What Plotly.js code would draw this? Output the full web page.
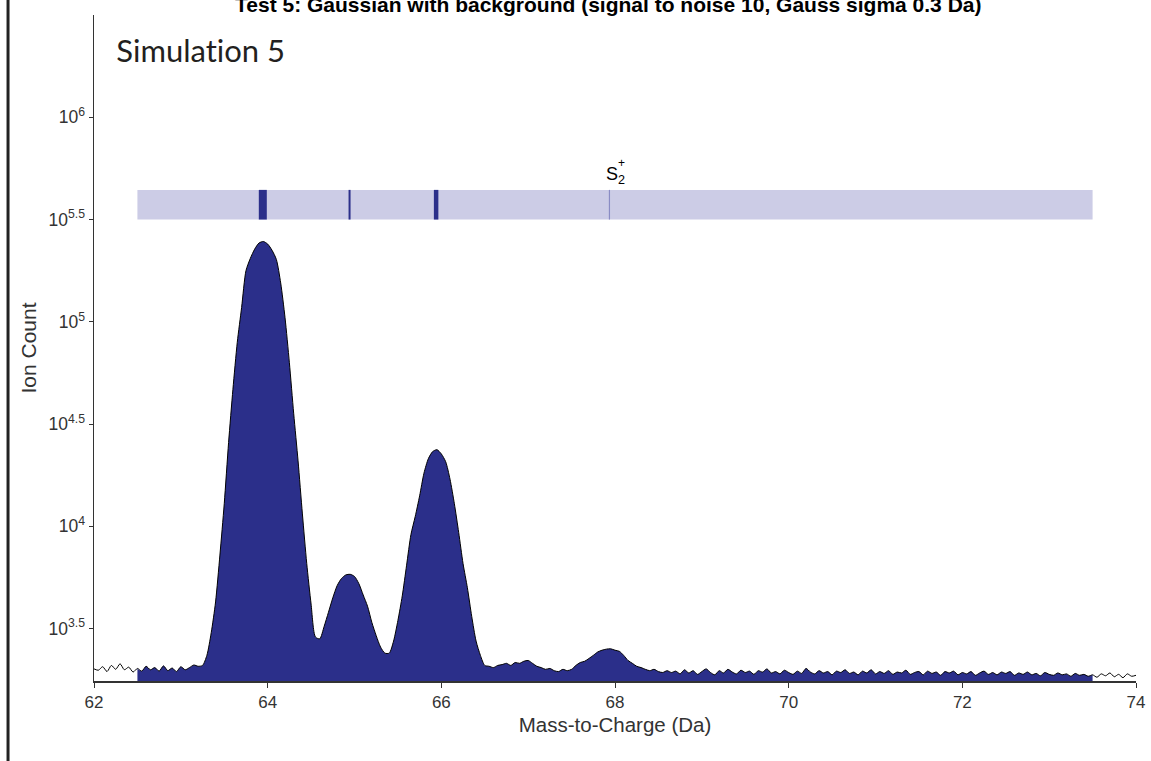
<!DOCTYPE html>
<html>
<head>
<meta charset="utf-8">
<script src="https://cdn.plot.ly/plotly-3.0.1.min.js"></script>
<style>
html,body{margin:0;padding:0;background:#fff;}
#chart{width:1151px;height:761px;}
#chart text{font-variant-ligatures:none;font-feature-settings:"liga" 0;}
</style>
</head>
<body>
<div id="chart"></div>
<script>
// ---- data ----
var mzStart = 62.0;          // first bin (Da)
var binWidth = 0.05;         // bin width (Da)
// ion counts per bin, one row per Da (62.00 ... 73.95) + final bin 74.00
var ionCounts = [
  2010,1980,2060,1950,2090,2000,2130,1990,2050,1940,2020,1960,2070,1990,2040,1960,2080,1970,2030,1950,
  2060,1990,2040,2100,2070,2090,2340,3020,4270,7240,12900,25700,46800,79400,117500,177800,204000,226500,242700,247000,
  239900,223900,201800,154900,104700,63100,35500,20900,11500,6580,4170,2880,2820,3240,3800,4470,5130,5560,5790,5830,
  5690,5250,4620,4070,3390,2920,2570,2400,2400,2750,3470,4570,6460,9120,11200,14100,18200,21400,23200,23700,
  22600,20700,17000,12900,9330,6580,5010,3630,2750,2340,2090,2070,2040,2090,2110,2140,2090,2160,2140,2190,
  2210,2140,2070,2040,2000,2020,1970,1950,2000,1970,2000,2090,2160,2190,2260,2340,2430,2480,2510,2520,
  2480,2450,2340,2210,2140,2070,2040,2000,1970,2000,1950,1930,1970,1930,1960,1900,1990,1920,1970,1890,
  1950,2010,1930,1880,1970,1920,2000,1940,1900,1980,1930,1960,1890,1970,1940,2010,1920,1950,1900,1980,
  1930,1890,1960,1910,2020,1940,1900,1970,1920,1950,1880,1960,1930,1990,1910,1940,1880,1960,1920,1990,
  1900,1950,1910,1970,1890,1940,1920,1980,1890,1930,1950,1880,1960,1910,1940,1870,1950,1920,1960,1880,
  1930,1900,1950,1870,1920,1960,1890,1930,1880,1940,1910,1950,1870,1920,1890,1940,1880,1910,1860,1930,
  1890,1870,1920,1880,1900,1850,1910,1870,1890,1850,1880,1830,1900,1860,1920,1840,1890,1820,1900,1850,
  1870
];
// ranged region (filled) and ion band
var rangeMz = [62.5, 73.5];
var bandCounts = [316228, 441570];       // 10^5.5 .. 10^5.645
var isotopeMz = [63.944, 64.943, 65.940, 67.936];
var isotopeLabel = 'S<sub>2</sub>';
var xTicks = [62, 64, 66, 68, 70, 72, 74];
var yTickVals = [3162.28, 10000, 31622.8, 100000, 316228, 1000000];
var yTickText = ['10<sup>3.5</sup>','10<sup>4</sup>','10<sup>4.5</sup>','10<sup>5</sup>','10<sup>5.5</sup>','10<sup>6</sup>'];

// ---- styles ----
var isoWidths = [8, 2, 4.5, 1.2];
var isoColors = ['#2b2f8a', '#2b2f8a', '#2b2f8a', '#8a8cc4'];
var navy = '#2b2f8a';
var axFont = 'Liberation Sans, Arial, sans-serif';

var mz = ionCounts.map(function(_, i){ return +(mzStart + i*binWidth).toFixed(3); });
var fx = [], fy = [];
for (var i = 0; i < mz.length; i++) {
  if (mz[i] >= rangeMz[0] - 1e-9 && mz[i] <= rangeMz[1] + 1e-9) { fx.push(mz[i]); fy.push(ionCounts[i]); }
}

var traces = [];
// band
traces.push({
  x: [rangeMz[0], rangeMz[1], rangeMz[1], rangeMz[0], rangeMz[0]],
  y: [bandCounts[0], bandCounts[0], bandCounts[1], bandCounts[1], bandCounts[0]],
  mode: 'lines', fill: 'toself', fillcolor: '#cccce6', line: {width: 0},
  hoverinfo: 'skip', showlegend: false
});
// isotope lines
isotopeMz.forEach(function(m, k){
  traces.push({
    x: [m, m], y: [bandCounts[0], bandCounts[1]], mode: 'lines',
    line: {color: isoColors[k], width: isoWidths[k]}, hoverinfo: 'skip', showlegend: false
  });
});
// filled spectrum in range
traces.push({
  x: fx, y: fy, mode: 'lines', fill: 'tozeroy', fillcolor: navy,
  line: {width: 0, color: navy, shape: 'spline', smoothing: 0.7}, hoverinfo: 'skip', showlegend: false
});
// full spectrum outline
traces.push({
  x: mz, y: ionCounts, mode: 'lines', line: {color: '#000', width: 1, shape: 'spline', smoothing: 0.7},
  showlegend: false
});

var layout = {
  width: 1151, height: 761,
  margin: {l: 94, r: 15, t: 15, b: 80},
  paper_bgcolor: '#fff', plot_bgcolor: '#fff',
  showlegend: false,
  font: {family: axFont, color: '#333', size: 17},
  xaxis: {
    range: [62, 74], tickvals: xTicks, ticktext: xTicks.map(String),
    showgrid: false, zeroline: false, showline: true, linecolor: '#333', linewidth: 1.5,
    ticks: 'outside', ticklen: 5, tickcolor: '#333', tickwidth: 1,
    tickfont: {family: axFont, size: 17, color: '#333'},
    title: {text: 'Mass-to-Charge (Da)', font: {family: axFont, size: 20.5, color: '#333'}, standoff: 6}
  },
  yaxis: {
    type: 'log', range: [3.244, 6.5], tickvals: yTickVals, ticktext: yTickText,
    showgrid: false, zeroline: false, showline: true, linecolor: '#333', linewidth: 1.5,
    ticks: 'outside', ticklen: 4, tickcolor: '#333', tickwidth: 1,
    tickfont: {family: axFont, size: 17.5, color: '#333'},
    title: {text: 'Ion Count', font: {family: axFont, size: 21, color: '#333'}, standoff: 6}
  },
  shapes: [
    {type: 'line', xref: 'paper', yref: 'paper', x0: -0.0825, x1: -0.0825, y0: -0.13, y1: 1.03,
     line: {color: '#222', width: 3}}
  ],
  annotations: [
    {text: '<b>Test 5: Gaussian with background (signal to noise 10, Gauss sigma 0.3 Da)</b>',
     xref: 'paper', yref: 'paper', x: 0.4935, y: 1.0165, xanchor: 'center', yanchor: 'middle',
     showarrow: false, font: {family: axFont, size: 21, color: '#000'}},
    {text: 'Simulation 5', xref: 'paper', yref: 'paper', x: 0.019, y: 0.947,
     xanchor: 'left', yanchor: 'middle', showarrow: false,
     font: {family: 'Lato, Open Sans, sans-serif', size: 31, color: '#231f20'}},
    {text: isotopeLabel, xref: 'x', yref: 'y', x: 67.869, y: 5.715, xanchor: 'left', yanchor: 'middle',
     showarrow: false, font: {family: axFont, size: 18, color: '#000'}},
    {text: '+', xref: 'x', yref: 'y', x: 68.07, y: 5.775, xanchor: 'center', yanchor: 'middle',
     showarrow: false, font: {family: axFont, size: 12, color: '#000'}}
  ]
};

Plotly.newPlot('chart', traces, layout, {displayModeBar: false, staticPlot: true});
</script>
</body>
</html>
